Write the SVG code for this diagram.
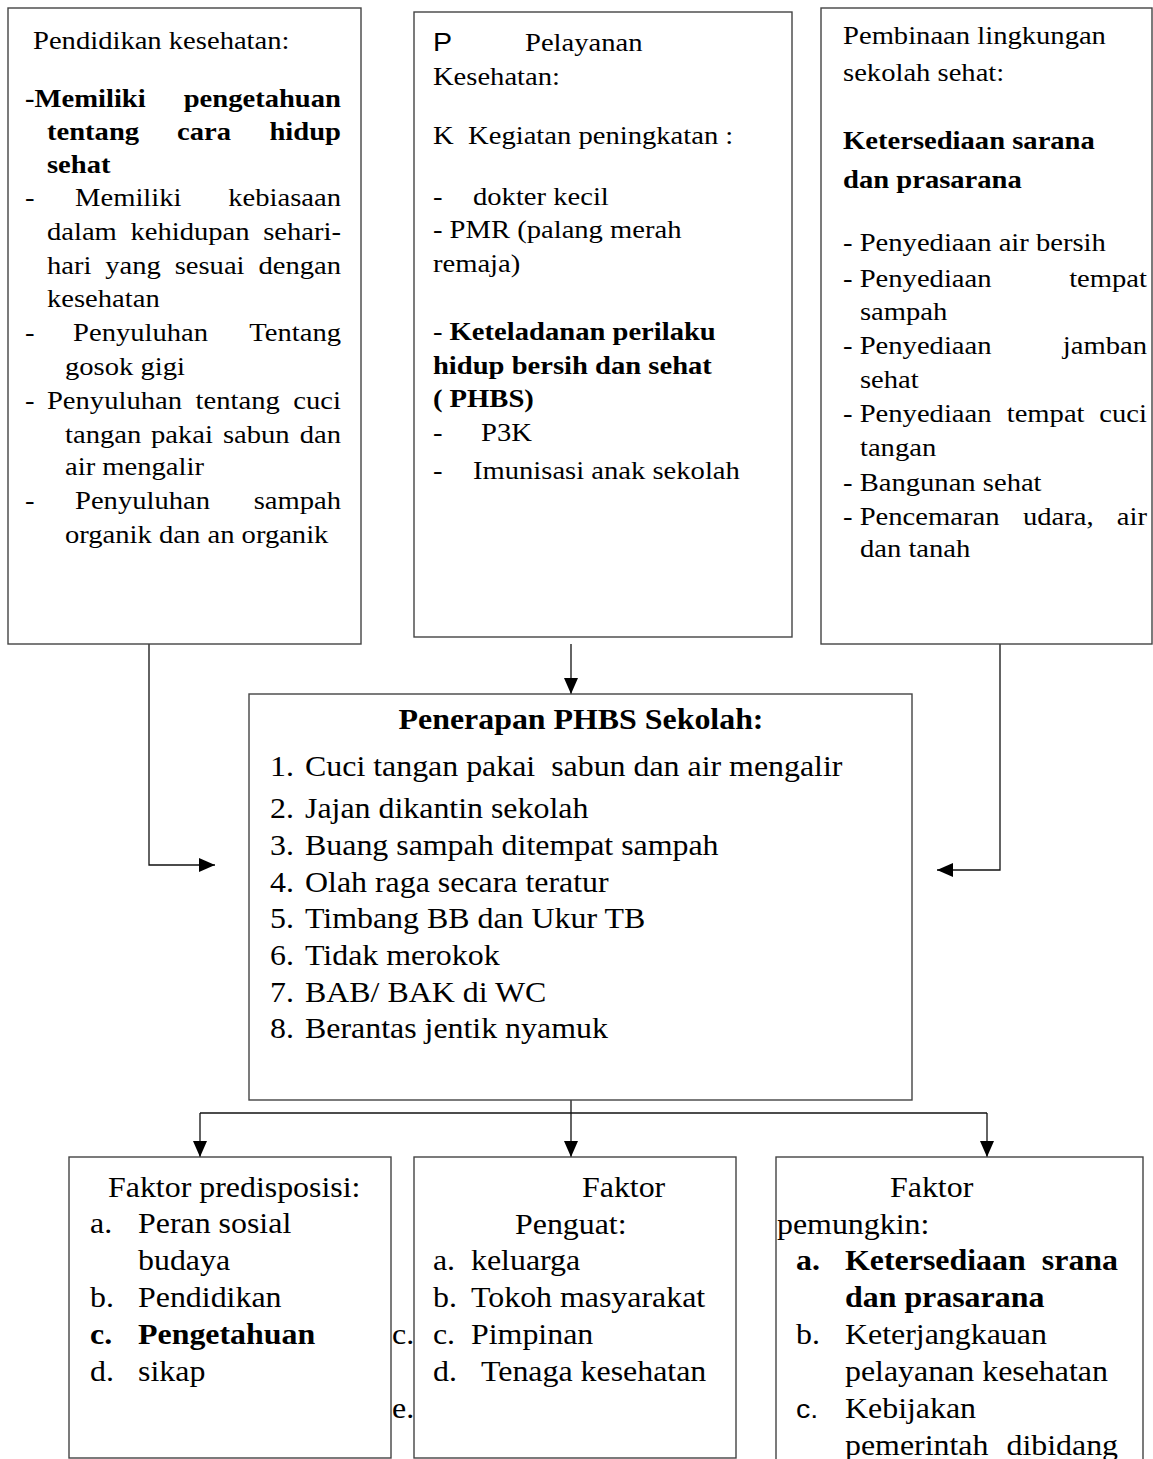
<svg xmlns="http://www.w3.org/2000/svg" width="1153" height="1459" viewBox="0 0 1153 1459">
<style>
.box{fill:#fff;stroke:#444;stroke-width:1.4}
.ln{fill:none;stroke:#111;stroke-width:1.3}
text{font-family:"Liberation Serif","Times New Roman",serif;fill:#000}
.t{font-size:26px}
.c{font-size:29px}
.b{font-weight:bold}
.s{font-family:"Liberation Sans",Arial,sans-serif}
.e{text-anchor:end}
.m{text-anchor:middle}
</style>
<defs>
<marker id="ah" markerWidth="16" markerHeight="14" refX="16" refY="7" orient="auto" markerUnits="userSpaceOnUse">
<path d="M0,0 L16,7 L0,14 Z" fill="#000"/>
</marker>
</defs>
<rect width="1153" height="1459" fill="#fff"/>
<g id="connectors">
<polyline class="ln" points="149,644 149,865 215,865" marker-end="url(#ah)"/>
<line class="ln" x1="571" y1="644" x2="571" y2="694" marker-end="url(#ah)"/>
<polyline class="ln" points="1000,644 1000,870 937,870" marker-end="url(#ah)"/>
<line class="ln" x1="571" y1="1100" x2="571" y2="1157" marker-end="url(#ah)"/>
<line class="ln" x1="200" y1="1113" x2="987" y2="1113"/>
<line class="ln" x1="200" y1="1113" x2="200" y2="1157" marker-end="url(#ah)"/>
<line class="ln" x1="987" y1="1113" x2="987" y2="1157" marker-end="url(#ah)"/>
</g>
<g id="pendidikan">
<rect class="box" x="8" y="8" width="353" height="636"/>
<g transform="scale(1.1 1)" class="t">
<text x="30" y="49">Pendidikan kesehatan:</text>
<text class="b" x="22.7" y="107">-Memiliki</text><text class="b e" x="310" y="107">pengetahuan</text>
<text class="b" x="42.7" y="140">tentang</text><text class="b" x="161" y="140">cara</text><text class="b e" x="310" y="140">hidup</text>
<text class="b" x="42.7" y="173">sehat</text>
<text x="22.7" y="206">-</text><text x="68.2" y="206">Memiliki</text><text class="e" x="310" y="206">kebiasaan</text>
<text x="42.7" y="240">dalam</text><text x="118.6" y="240">kehidupan</text><text class="e" x="310" y="240">sehari-</text>
<text x="42.7" y="274">hari</text><text x="95.7" y="274">yang</text><text x="158.8" y="274">sesuai</text><text class="e" x="310" y="274">dengan</text>
<text x="42.7" y="307">kesehatan</text>
<text x="22.7" y="341">-</text><text x="66.4" y="341">Penyuluhan</text><text class="e" x="310" y="341">Tentang</text>
<text x="59.1" y="375">gosok gigi</text>
<text x="22.7" y="409">-</text><text x="42.7" y="409">Penyuluhan</text><text x="177.8" y="409">tentang</text><text class="e" x="310" y="409">cuci</text>
<text x="59.1" y="443">tangan</text><text x="137.3" y="443">pakai</text><text x="202.7" y="443">sabun</text><text class="e" x="310" y="443">dan</text>
<text x="59.1" y="475">air mengalir</text>
<text x="22.7" y="509">-</text><text x="68.2" y="509">Penyuluhan</text><text class="e" x="310" y="509">sampah</text>
<text x="59.1" y="543">organik dan an organik</text>
</g>
</g>
<g id="pelayanan">
<rect class="box" x="414" y="12" width="378" height="625"/>
<g transform="scale(1.1 1)" class="t">
<text class="s" x="393.6" y="51">P</text><text x="477.3" y="51">Pelayanan</text>
<text x="393.6" y="85">Kesehatan:</text>
<text x="393.6" y="144">K</text><text x="425.5" y="144">Kegiatan peningkatan :</text>
<text x="393.6" y="205">-</text><text x="430" y="205">dokter kecil</text>
<text x="393.6" y="238">- PMR (palang merah</text>
<text x="393.6" y="272">remaja)</text>
<text x="393.6" y="340">- <tspan class="b">Keteladanan perilaku</tspan></text>
<text class="b" x="393.6" y="374">hidup bersih dan sehat</text>
<text class="b" x="393.6" y="407">( PHBS)</text>
<text x="393.6" y="441">-</text><text x="437.3" y="441">P3K</text>
<text x="393.6" y="479">-</text><text x="430" y="479">Imunisasi anak sekolah</text>
</g>
</g>
<g id="lingkungan">
<rect class="box" x="821" y="8" width="331" height="636"/>
<g transform="scale(1.1 1)" class="t">
<text x="766.4" y="44">Pembinaan lingkungan</text>
<text x="766.4" y="81">sekolah sehat:</text>
<text class="b" x="766.4" y="149">Ketersediaan sarana</text>
<text class="b" x="766.4" y="188">dan prasarana</text>
<text x="766.4" y="251">- Penyediaan air bersih</text>
<text x="766.4" y="287">- Penyediaan</text><text class="e" x="1042.7" y="287">tempat</text>
<text x="781.8" y="320">sampah</text>
<text x="766.4" y="354">- Penyediaan</text><text class="e" x="1042.7" y="354">jamban</text>
<text x="781.8" y="388">sehat</text>
<text x="766.4" y="422">- Penyediaan</text><text x="915.2" y="422">tempat</text><text class="e" x="1042.7" y="422">cuci</text>
<text x="781.8" y="456">tangan</text>
<text x="766.4" y="491">- Bangunan sehat</text>
<text x="766.4" y="525">- Pencemaran</text><text x="929.9" y="525">udara,</text><text class="e" x="1042.7" y="525">air</text>
<text x="781.8" y="557">dan tanah</text>
</g>
</g>
<g id="penerapan">
<rect class="box" x="249" y="694" width="663" height="406"/>
<g transform="scale(1.1 1)" class="c">
<text class="b m" x="528.2" y="729">Penerapan PHBS Sekolah:</text>
<text x="245.5" y="776">1.</text><text x="277.3" y="776" xml:space="preserve">Cuci tangan pakai  sabun dan air mengalir</text>
<text x="245.5" y="818">2.</text><text x="277.3" y="818">Jajan dikantin sekolah</text>
<text x="245.5" y="855">3.</text><text x="277.3" y="855">Buang sampah ditempat sampah</text>
<text x="245.5" y="892">4.</text><text x="277.3" y="892">Olah raga secara teratur</text>
<text x="245.5" y="928">5.</text><text x="277.3" y="928">Timbang BB dan Ukur TB</text>
<text x="245.5" y="965">6.</text><text x="277.3" y="965">Tidak merokok</text>
<text x="245.5" y="1002">7.</text><text x="277.3" y="1002">BAB/ BAK di WC</text>
<text x="245.5" y="1038">8.</text><text x="277.3" y="1038">Berantas jentik nyamuk</text>
</g>
</g>
<g id="predisposisi">
<rect class="box" x="69" y="1157" width="322" height="301"/>
<g transform="scale(1.1 1)" class="c">
<text x="98.2" y="1197">Faktor predisposisi:</text>
<text x="81.8" y="1233">a.</text><text x="125.5" y="1233">Peran sosial</text>
<text x="125.5" y="1270">budaya</text>
<text x="81.8" y="1307">b.</text><text x="125.5" y="1307">Pendidikan</text>
<text class="b" x="81.8" y="1344">c.</text><text class="b" x="125.5" y="1344">Pengetahuan</text>
<text x="81.8" y="1381">d.</text><text x="125.5" y="1381">sikap</text>
<text x="356.4" y="1344">c.</text>
<text x="356.4" y="1418">e.</text>
</g>
</g>
<g id="penguat">
<rect class="box" x="414" y="1157" width="322" height="301"/>
<g transform="scale(1.1 1)" class="c">
<text x="529.1" y="1197">Faktor</text>
<text x="468.2" y="1234">Penguat:</text>
<text x="393.6" y="1270">a.</text><text x="428.2" y="1270">keluarga</text>
<text x="393.6" y="1307">b.</text><text x="428.2" y="1307">Tokoh masyarakat</text>
<text x="393.6" y="1344">c.</text><text x="428.2" y="1344">Pimpinan</text>
<text x="393.6" y="1381">d.</text><text x="437.3" y="1381">Tenaga kesehatan</text>
</g>
</g>
<g id="pemungkin">
<rect class="box" x="776" y="1157" width="367" height="320"/>
<g transform="scale(1.1 1)" class="c">
<text x="809.1" y="1197">Faktor</text>
<text x="706.4" y="1234">pemungkin:</text>
<text class="b" x="723.6" y="1270">a.</text><text class="b" x="768.2" y="1270">Ketersediaan</text><text class="b e" x="1016.4" y="1270">srana</text>
<text class="b" x="768.2" y="1307">dan prasarana</text>
<text x="723.6" y="1344">b.</text><text x="768.2" y="1344">Keterjangkauan</text>
<text x="768.2" y="1381">pelayanan kesehatan</text>
<text class="s" x="723.6" y="1418" style="font-size:26px">c.</text><text x="768.2" y="1418">Kebijakan</text>
<text x="768.2" y="1455">pemerintah</text><text class="e" x="1016.4" y="1455">dibidang</text>
</g>
</g>
</svg>
